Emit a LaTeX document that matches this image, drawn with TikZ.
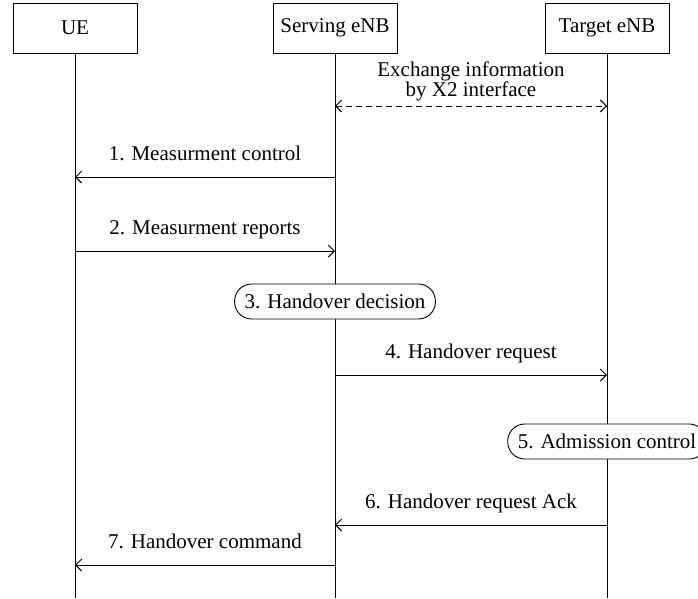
\documentclass[tikz,border=0pt]{standalone}
\usepackage{fontspec}
\setmainfont{Liberation Serif}
\usepackage{tikz}
\usetikzlibrary{arrows.meta,positioning}

\begin{document}
\begin{tikzpicture}[x=1pt,y=-1pt,
    font=\fontsize{21}{20.5}\selectfont,
    line width=0.9pt,
    >={Straight Barb[length=6pt,width=12pt]},
    entity/.style={draw,minimum width=124pt,minimum height=50pt,inner sep=0pt},
    action/.style={draw,fill=white,rounded corners=17pt,minimum height=35pt,inner xsep=10pt},
    msg/.style={->},
    lbl/.style={midway,anchor=base,yshift=17pt}]
  \useasboundingbox (0,0) rectangle (698,598);
  \node [entity] (ue) at (75,28) {UE};
  \node [entity] (se) at (335,28) {Serving eNB};
  \node [entity] (te) at (607,28) {Target eNB};
  \coordinate (ue end) at (75,598);
  \coordinate (se end) at (335,598);
  \coordinate (te end) at (607,598);
  \draw (ue) -- (ue end);
  \draw (se) -- (se end);
  \draw (te) -- (te end);
  \coordinate (s0) at (335,106);
  \coordinate (t0) at (607,106);
  \coordinate (s1) at (335,177);
  \coordinate (u1) at (75,177);
  \coordinate (u2) at (75,251);
  \coordinate (s2) at (335,251);
  \coordinate (s4) at (335,375);
  \coordinate (t4) at (607,375);
  \coordinate (t6) at (607,525);
  \coordinate (s6) at (335,525);
  \coordinate (s7) at (335,565);
  \coordinate (u7) at (75,565);
  \draw [<->,dash pattern=on 6pt off 4pt] (s0) -- node [above=1pt,align=center] {Exchange information\\by X2 interface} (t0);
  \draw [msg] (s1) -- node [lbl] {1. Measurment control} (u1);
  \draw [msg] (u2) -- node [lbl] {2. Measurment reports} (s2);
  \node [action] (decision) at (335,301.5) {3. Handover decision};
  \draw [msg] (s4) -- node [lbl] {4. Handover request} (t4);
  \node [action] (admission) at (607,441.5) {5. Admission control};
  \draw [msg] (t6) -- node [lbl] {6. Handover request Ack} (s6);
  \draw [msg] (s7) -- node [lbl] {7. Handover command} (u7);
\end{tikzpicture}
\end{document}
